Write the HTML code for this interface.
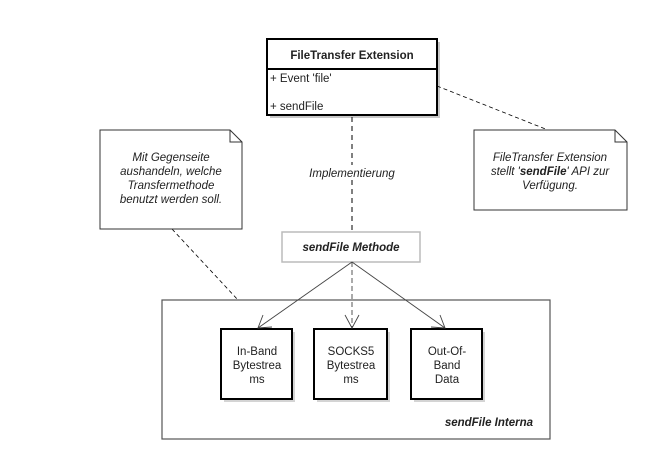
<!DOCTYPE html>
<html><head><meta charset="utf-8"><style>
body{margin:0;background:#fff;}
svg text{font-family:"Liberation Sans",Arial,sans-serif;font-size:11.5px;fill:#222;}
</style></head><body>
<svg width="648" height="460" viewBox="0 0 648 460" xmlns="http://www.w3.org/2000/svg">
<!-- class box -->
<rect x="270" y="42" width="170" height="76" fill="#c8c8c8"/>
<rect x="267" y="39" width="170" height="76" fill="#fff" stroke="#000" stroke-width="2"/>
<line x1="267" y1="69" x2="437" y2="69" stroke="#000" stroke-width="2"/>
<text x="352" y="59" text-anchor="middle" font-weight="bold">FileTransfer Extension</text>
<text x="270" y="82">+ Event 'file'</text>
<text x="270" y="110">+ sendFile</text>
<!-- connectors -->
<line x1="352" y1="117" x2="352" y2="232" stroke="#000" stroke-dasharray="5,4"/>
<rect x="300" y="165" width="104" height="14" fill="#fff"/>
<text x="352" y="177" text-anchor="middle" font-style="italic" fill="#333">Implementierung</text>
<line x1="437" y1="86" x2="548" y2="130" stroke="#000" stroke-dasharray="4,3" stroke-width="0.8"/>
<line x1="172" y1="229" x2="238" y2="300" stroke="#000" stroke-dasharray="4,3" stroke-width="0.8"/>
<!-- notes -->
<path d="M100 130 H230 L242 142 V229 H100 Z" fill="#fff" stroke="#333"/>
<path d="M230 130 V142 H242" fill="none" stroke="#333"/>
<text text-anchor="middle" font-style="italic" fill="#333"><tspan x="171" y="161">Mit Gegenseite</tspan><tspan x="171" y="175">aushandeln, welche</tspan><tspan x="171" y="189">Transfermethode</tspan><tspan x="171" y="203">benutzt werden soll.</tspan></text>
<path d="M474 130 H615 L627 142 V210 H474 Z" fill="#fff" stroke="#333"/>
<path d="M615 130 V142 H627" fill="none" stroke="#333"/>
<text text-anchor="middle" font-style="italic" fill="#333"><tspan x="550" y="161">FileTransfer Extension</tspan><tspan x="550" y="175">stellt '<tspan font-weight="bold">sendFile</tspan>' API zur</tspan><tspan x="550" y="189">Verfügung.</tspan></text>
<!-- method box -->
<rect x="282" y="232" width="138" height="30" fill="#fff" stroke="#bbb" stroke-width="1.5"/>
<text x="351" y="251" text-anchor="middle" font-style="italic" font-weight="bold">sendFile Methode</text>
<!-- outer -->
<rect x="162" y="300" width="388" height="139" fill="none" stroke="#555" stroke-width="1.2"/>
<text x="533" y="426" text-anchor="end" font-style="italic" font-weight="bold">sendFile Interna</text>
<!-- inner boxes -->
<rect x="224" y="332" width="71" height="70" fill="#d4d4d4"/>
<rect x="221" y="329" width="71" height="70" fill="#fff" stroke="#000" stroke-width="2"/>
<rect x="317" y="332" width="73" height="70" fill="#d4d4d4"/>
<rect x="314" y="329" width="73" height="70" fill="#fff" stroke="#000" stroke-width="2"/>
<rect x="414" y="332" width="71" height="70" fill="#d4d4d4"/>
<rect x="411" y="329" width="71" height="70" fill="#fff" stroke="#000" stroke-width="2"/>
<text text-anchor="middle"><tspan x="257" y="355">In-Band</tspan><tspan x="257" y="369">Bytestrea</tspan><tspan x="257" y="383">ms</tspan></text>
<text text-anchor="middle"><tspan x="351" y="355">SOCKS5</tspan><tspan x="351" y="369">Bytestrea</tspan><tspan x="351" y="383">ms</tspan></text>
<text text-anchor="middle"><tspan x="447" y="355">Out-Of-</tspan><tspan x="447" y="369">Band</tspan><tspan x="447" y="383">Data</tspan></text>
<!-- arrows -->
<g stroke="#444" fill="none" stroke-width="0.9">
<line x1="352" y1="262" x2="258" y2="328"/>
<line x1="352" y1="262" x2="352" y2="328" stroke-dasharray="5,3"/>
<line x1="352" y1="262" x2="445" y2="328"/>
<path d="M263 315 L258 328 L272 327"/>
<path d="M345 315 L352 328 L359 315"/>
<path d="M431 327 L445 328 L440 315"/>
</g>
</svg>
</body></html>
